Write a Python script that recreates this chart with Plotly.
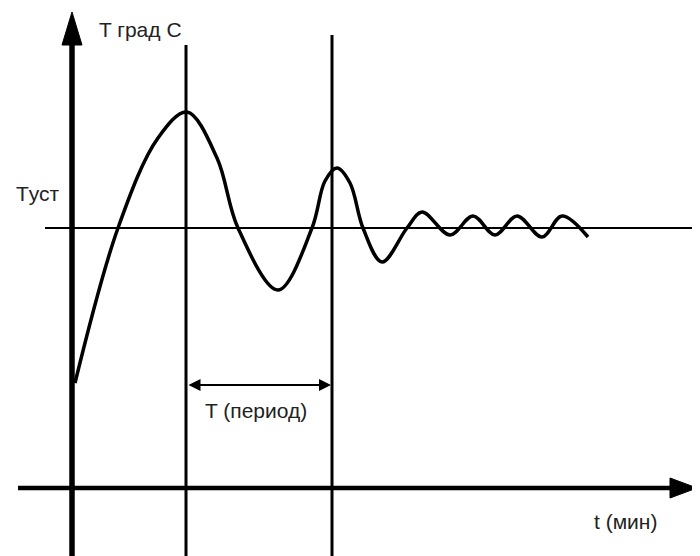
import plotly.graph_objects as go

# Schematic data (t in arbitrary time units, T in arbitrary temperature units)
t_curve = [0.3, 4.6, 8.6, 11.5, 14.5, 16.6, 20.6, 24.0, 25.3, 26.5, 27.8, 29.1, 31.0,
           33.5, 35.0, 37.8, 40.1, 42.3, 44.5, 47.0, 49.0, 51.6]
T_curve = [10.5, 26.0, 35.0, 37.6, 33.0, 26.0, 19.8, 26.0, 30.7, 32.0, 30.5, 26.0, 22.6,
           26.0, 27.6, 25.3, 27.2, 25.3, 27.2, 25.1, 27.2, 25.1]
T_set = 26.0
period_start = 11.4
period_end = 26.0
period_level = 10.3

x_min, x_max = -6.4, 63.6
y_min, y_max = -7.6, 48.0

fig = go.Figure()

# Setpoint line
fig.add_trace(go.Scatter(x=[-2.7, x_max], y=[T_set, T_set], mode="lines",
                         line=dict(color="black", width=2), hoverinfo="skip"))
# Vertical period markers
fig.add_trace(go.Scatter(x=[period_start, period_start], y=[44.3, y_min], mode="lines",
                         line=dict(color="black", width=3), hoverinfo="skip"))
fig.add_trace(go.Scatter(x=[period_end, period_end], y=[45.3, y_min], mode="lines",
                         line=dict(color="black", width=3), hoverinfo="skip"))
# Axes
fig.add_trace(go.Scatter(x=[0, 0], y=[y_min, 45.5], mode="lines",
                         line=dict(color="black", width=5.5), hoverinfo="skip"))
fig.add_trace(go.Scatter(x=[-5.4, 60.5], y=[0, 0], mode="lines",
                         line=dict(color="black", width=4.5), hoverinfo="skip"))
# Arrow heads (filled triangles)
fig.add_trace(go.Scatter(x=[-1.0, 0, 1.0, -1.0], y=[44.3, 47.6, 44.3, 44.3], mode="lines",
                         fill="toself", fillcolor="black", line=dict(color="black", width=1),
                         hoverinfo="skip"))
fig.add_trace(go.Scatter(x=[59.8, 62.5, 59.8, 59.8], y=[1.0, 0, -1.0, 1.0], mode="lines",
                         fill="toself", fillcolor="black", line=dict(color="black", width=1),
                         hoverinfo="skip"))
# Response curve
fig.add_trace(go.Scatter(x=t_curve, y=T_curve, mode="lines",
                         line=dict(color="black", width=3.5, shape="spline", smoothing=1.0),
                         hoverinfo="skip"))

font = dict(family="Liberation Sans, Arial", size=21, color="#222")
annotations = [
    dict(x=period_end - 0.1, y=period_level, ax=period_start + 0.1, ay=period_level,
         xref="x", yref="y", axref="x", ayref="y", showarrow=True, arrowhead=2,
         arrowside="end+start", arrowsize=1.2, arrowwidth=2, arrowcolor="black", text=""),
    dict(x=2.5, y=45.9, text="T град C", xref="x", yref="y", showarrow=False,
         xanchor="left", yanchor="middle", font=font),
    dict(x=-5.8, y=29.5, text="Tуст", xref="x", yref="y", showarrow=False,
         xanchor="left", yanchor="middle", font=font),
    dict(x=13.1, y=7.8, text="T (период)", xref="x", yref="y", showarrow=False,
         xanchor="left", yanchor="middle", font=font),
    dict(x=52.0, y=-3.3, text="t (мин)", xref="x", yref="y", showarrow=False,
         xanchor="left", yanchor="middle", font=font),
]

fig.update_layout(
    width=700, height=556,
    margin=dict(l=0, r=0, t=0, b=0),
    paper_bgcolor="white", plot_bgcolor="white",
    showlegend=False,
    xaxis=dict(range=[x_min, x_max], visible=False, fixedrange=True),
    yaxis=dict(range=[y_min, y_max], visible=False, fixedrange=True),
    annotations=annotations,
)

fig.write_html("out.html")
